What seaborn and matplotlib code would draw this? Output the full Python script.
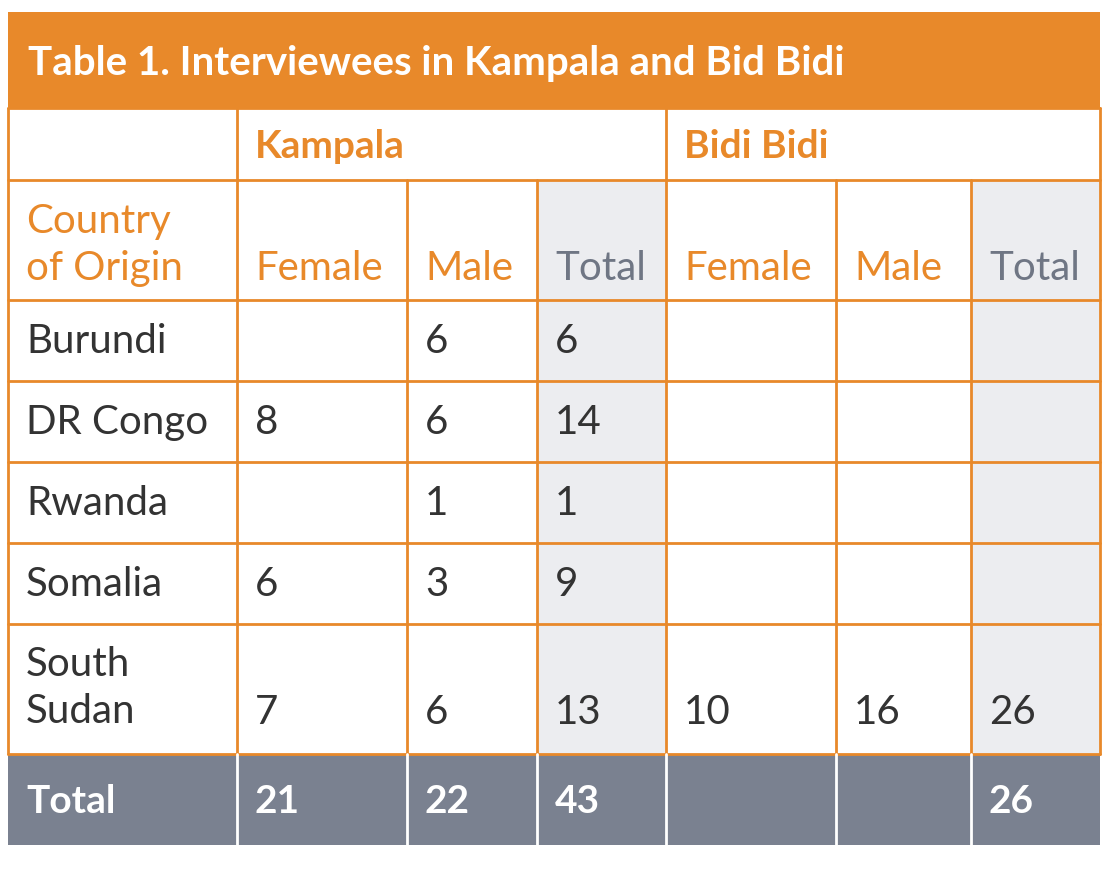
import numpy as np
import matplotlib.pyplot as plt
import seaborn as sns

sns.set_theme(style="white")
plt.rcParams['font.family'] = ['Lato', 'DejaVu Sans']

title = "Table 1. Interviewees in Kampala and Bid Bidi"
groups = ["Kampala", "Bidi Bidi"]
sub_cols = ["Female", "Male", "Total", "Female", "Male", "Total"]
countries = ["Burundi", "DR Congo", "Rwanda", "Somalia", "South\nSudan"]
kampala_female = ["", "8", "", "6", "7"]
kampala_male = ["6", "6", "1", "3", "6"]
kampala_total = ["6", "14", "1", "9", "13"]
bidi_female = ["", "", "", "", "10"]
bidi_male = ["", "", "", "", "16"]
bidi_total = ["", "", "", "", "26"]
totals = ["21", "22", "43", "", "", "26"]

ORANGE = "#E8892A"
DARK = "#333333"
GREY_TXT = "#6F7684"
LIGHT = "#ECEDF0"
FOOT = "#7A8190"

xs = [8, 237, 407, 537, 666, 836, 971, 1100]
ys = [108, 180, 300, 381, 462, 543, 624, 754, 845]

fig = plt.figure(figsize=(11.16, 8.69), dpi=100)
ax = fig.add_axes([0, 0, 1, 1])
ax.set_xlim(0, 1116)
ax.set_ylim(869, 0)
ax.axis('off')

def rect(x0, y0, x1, y1, c):
    ax.add_patch(plt.Rectangle((x0, y0), x1 - x0, y1 - y0, color=c, lw=0))

# title band and fills
rect(8, 12, 1100, 108, ORANGE)
ax.text(28, 64, title, color="white", fontsize=29, fontweight="bold", va="center")
for ci in (3, 6):
    rect(xs[ci], ys[1], xs[ci + 1], ys[7], LIGHT)
rect(8, ys[7], 1100, ys[8], FOOT)

# grid lines
lw = 2
for y in ys[0:8]:
    ax.plot([8, 1100], [y, y], color=ORANGE, lw=lw)
ax.plot([8, 8], [ys[0], ys[7]], color=ORANGE, lw=lw)
ax.plot([1100, 1100], [ys[0], ys[7]], color=ORANGE, lw=lw)
for i, x in enumerate(xs[1:-1], start=1):
    top = ys[0] if i in (1, 4) else ys[1]
    ax.plot([x, x], [top, ys[7]], color=ORANGE, lw=lw)
    ax.plot([x, x], [ys[7], ys[8]], color="white", lw=lw)

fs = 29
ax.text(255, 147, groups[0], color=ORANGE, fontsize=28, fontweight="bold", va="center")
ax.text(684, 147, groups[1], color=ORANGE, fontsize=28, fontweight="bold", va="center")
ax.text(26, 245, "Country\nof Origin", color=ORANGE, fontsize=fs, va="center", linespacing=1.35)
for i, lab in enumerate(sub_cols):
    col = GREY_TXT if lab == "Total" else ORANGE
    ax.text(xs[i + 1] + 18, 269, lab, color=col, fontsize=fs, va="center")

cols = [kampala_female, kampala_male, kampala_total, bidi_female, bidi_male, bidi_total]
for r, name in enumerate(countries):
    y0, y1 = ys[r + 2], ys[r + 3]
    if "\n" in name:
        ax.text(26, (y0 + y1) / 2 - 1, name, color=DARK, fontsize=fs, va="center", linespacing=1.35)
        yv = y1 - 41
    else:
        ax.text(26, (y0 + y1) / 2 + 1, name, color=DARK, fontsize=fs, va="center")
        yv = (y0 + y1) / 2 + 1
    for c, vals in enumerate(cols):
        ax.text(xs[c + 1] + 18, yv, vals[r], color=DARK, fontsize=fs, va="center")

ym = (ys[7] + ys[8]) / 2 + 2
ax.text(26, ym, "Total", color="white", fontsize=28, fontweight="bold", va="center")
for c, v in enumerate(totals):
    ax.text(xs[c + 1] + 18, ym, v, color="white", fontsize=28, fontweight="bold", va="center")

fig.savefig("out.png", dpi=100, facecolor="white")
